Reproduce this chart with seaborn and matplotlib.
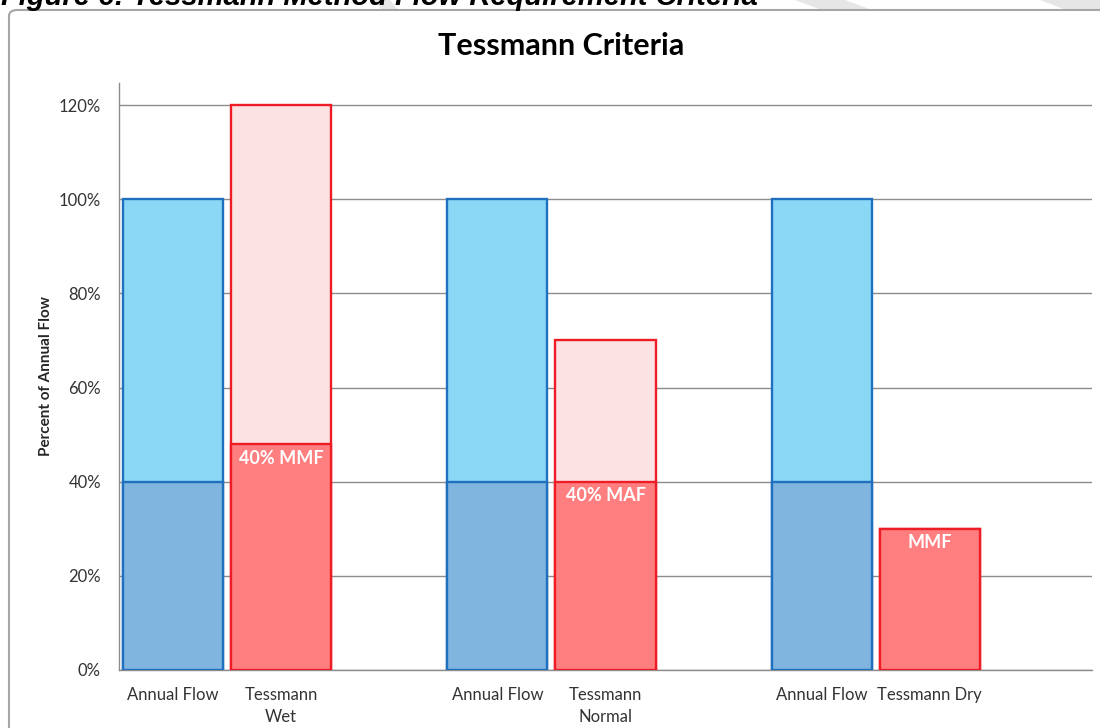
import numpy as np
import pandas as pd
import matplotlib.pyplot as plt
import seaborn as sns
from matplotlib.patches import FancyBboxPatch, Polygon

# data
slots = ["af_wet", "t_wet", "gap1", "af_norm", "t_norm", "gap2", "af_dry", "t_dry", "gap3"]
tick_labels = ["Annual Flow", "Tessmann\nWet", "", "Annual Flow", "Tessmann\nNormal", "",
               "Annual Flow", "Tessmann Dry", ""]
bar_slots = ["af_wet", "t_wet", "af_norm", "t_norm", "af_dry", "t_dry"]
bar_kind = ["annual", "tessmann", "annual", "tessmann", "annual", "tessmann"]
total_pct = [100, 120, 100, 70, 100, 30]
base_pct = [40, 48, 40, 40, 40, 30]
base_labels = ["", "40% MMF", "", "40% MAF", "", "MMF"]
y_ticks = [0, 20, 40, 60, 80, 100, 120]

df = pd.DataFrame({"slot": bar_slots, "kind": bar_kind, "total": total_pct, "base": base_pct})

sns.set_style("white")
plt.rcParams['font.family'] = ['Lato', 'DejaVu Sans']

top_cols = {"annual": "#8ad8f6", "tessmann": "#fde2e3"}
base_cols = {"annual": "#7fb5de", "tessmann": "#ff7f80"}
edge_cols = {"annual": "#1f70bf", "tessmann": "#ee1c24"}

fig = plt.figure(figsize=(11, 7.28), dpi=100)
W, H = 1100, 728

# outer chart frame + cut-off caption and watermark bits
for pts in [[(374, 0), (390, 0), (398, 10), (382, 10)],
            [(795, 0), (845, 0), (872, 10), (822, 10)],
            [(1040, 0), (1100, 0), (1100, 10), (1066, 10)]]:
    fig.patches.append(Polygon([(x / W, 1 - y / H) for x, y in pts], closed=True,
                               transform=fig.transFigure, facecolor="#e6e6e6",
                               edgecolor="none", zorder=-3))
fig.patches.append(FancyBboxPatch((9 / W, -0.05), 1.2, 1 - 10 / H + 0.05,
                                  boxstyle="round,pad=0,rounding_size=0.008",
                                  transform=fig.transFigure, facecolor="white",
                                  edgecolor="#a6a6a6", linewidth=1.5, zorder=-2))
fig.text(1 / W, 1 - 5 / H, "Figure 6: Tessmann Method Flow Requirement Criteria",
         family=["Liberation Sans", "DejaVu Sans"], fontsize=21, fontweight="bold",
         fontstyle="italic", va="baseline", ha="left", color="black", zorder=-1)

ax = fig.add_axes([119 / W, 1 - 670 / H, 973 / W, 587 / H])
ax.set_facecolor("none")

for kind in ["annual", "tessmann"]:
    sub = df[df["kind"] == kind]
    sns.barplot(data=sub, x="slot", y="total", order=slots, color=top_cols[kind],
                saturation=1, width=0.925, edgecolor=edge_cols[kind], linewidth=1.7,
                ax=ax, zorder=3)
    sns.barplot(data=sub, x="slot", y="base", order=slots, color=base_cols[kind],
                saturation=1, width=0.925, edgecolor=edge_cols[kind], linewidth=1.7,
                ax=ax, zorder=4)

for s, b, lab in zip(bar_slots, base_pct, base_labels):
    if lab:
        ax.text(slots.index(s), b - 1.2, lab, ha="center", va="top", color="white",
                fontsize=13, fontweight="bold", zorder=6)

ax.set_xlim(-0.5, len(slots) - 0.5)
ax.set_ylim(0, 124.7)
ax.set_yticks(y_ticks)
ax.set_yticklabels([f"{v}%" for v in y_ticks])
ax.yaxis.grid(True, color="#8c8c8c", linewidth=1)
ax.set_axisbelow(True)

ax.set_xticks(range(len(slots)))
ax.set_xticklabels(tick_labels, linespacing=1.45)
ax.set_xticks(np.arange(-0.5, len(slots)), minor=True)
ax.tick_params(axis="x", which="major", length=0, pad=12, labelsize=12, labelcolor="#333333")
ax.tick_params(axis="x", which="minor", length=5, width=1, color="#8c8c8c", direction="out")
ax.tick_params(axis="y", length=6, width=1, color="#8c8c8c", direction="out",
               pad=7, labelsize=12, labelcolor="#333333")

for side in ["top", "right"]:
    ax.spines[side].set_visible(False)
for side in ["left", "bottom"]:
    ax.spines[side].set_color("#8c8c8c")
    ax.spines[side].set_linewidth(1)

ax.set_xlabel("")
ax.set_ylabel("Percent of Annual Flow", fontsize=11, fontweight="bold", labelpad=4)

fig.text(561 / W, 1 - 46 / H, "Tessmann Criteria", ha="center", va="center",
         fontsize=22, fontweight="bold", color="black")

plt.savefig("out.png", dpi=100)
